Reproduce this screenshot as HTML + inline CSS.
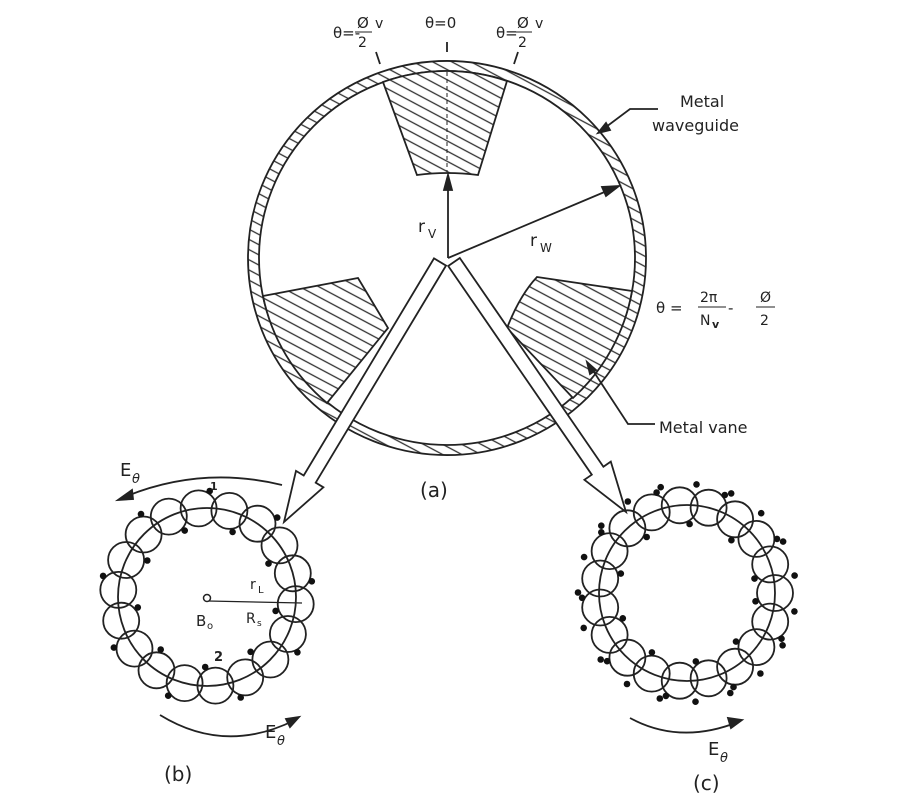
<!DOCTYPE html>
<html><head><meta charset="utf-8"><style>
html,body{margin:0;padding:0;background:#fff}
svg{display:block}
text{font-family:"DejaVu Sans","Liberation Sans",sans-serif;fill:#222}
</style></head><body>
<svg id="s" width="900" height="800" viewBox="0 0 900 800" xmlns="http://www.w3.org/2000/svg">
<defs>
<pattern id="h" patternUnits="userSpaceOnUse" width="9" height="9" patternTransform="rotate(28)">
<rect width="9" height="9" fill="#fff"/><line x1="0" y1="4.5" x2="9" y2="4.5" stroke="#333" stroke-width="1.3"/>
</pattern>
</defs>
<g stroke="#222" stroke-width="1.8" fill="none">
<!-- waveguide wall -->
<path d="M248,258 a199,197 0 1,0 398,0 a199,197 0 1,0 -398,0 Z M259,258 a188,187 0 1,0 376,0 a188,187 0 1,0 -376,0 Z" fill="url(#h)" fill-rule="evenodd"/>
<!-- vanes -->
<path d="M383,82 A188,188 0 0,1 507,81 L478,175 Q447,171 417,175 Z" fill="url(#h)"/>
<path d="M263,296 L358,278 L388,328 L327,403 A188,188 0 0,1 263,296 Z" fill="url(#h)"/>
<path d="M537,277 L632,291 A188,188 0 0,1 573,398 L507,328 Q520,295 537,277 Z" fill="url(#h)"/>
<line x1="447" y1="72" x2="447" y2="172" stroke-dasharray="4,3" stroke-width="1"/>
<!-- radii -->
<line x1="448" y1="258" x2="448" y2="178"/>
<polygon points="448,175 444,190 452,190" fill="#222"/>
<line x1="448" y1="258" x2="614" y2="188"/>
<polygon points="619,186 602,187 606,196" fill="#222"/>
<!-- tick marks -->
<line x1="447" y1="42" x2="447" y2="52"/>
<line x1="376" y1="52" x2="380" y2="64"/>
<line x1="518" y1="52" x2="514" y2="64"/>
<!-- leaders -->
<polyline points="658,109 630,109 602,130"/>
<polygon points="598,133 606,123 610,130" fill="#222"/>
<polyline points="655,424 628,424 590,366"/>
<polygon points="587,362 596,370 590,374" fill="#222"/>
<!-- arrows -->
<polygon points="459.8,258 603.4,466.7 610.8,461.6 626,512 584.4,479.8 591.8,474.7 448.2,266" fill="#fff"/>
<polygon points="446,265.6 315.7,482.7 323.4,487.3 284,522 296,470.9 303.7,475.5 434,258.4" fill="#fff"/>
<!-- E arcs -->
<path d="M122,498 Q200,465 282,485"/>
<polygon points="118,500 132,490 133,499" fill="#222"/>
<path d="M160,715 Q225,755 295,720"/>
<polygon points="299,717 286,719 290,727" fill="#222"/>
<path d="M630,718 Q680,745 738,722"/>
<polygon points="742,720 728,718 731,728" fill="#222"/>
<line x1="208" y1="601" x2="302" y2="603" stroke-width="1.3"/>
</g>
<circle cx="207" cy="598" r="3.5" fill="#fff" stroke="#222" stroke-width="1.5"/>
<g id="rb" stroke="#222" stroke-width="1.8" fill="none"></g>
<g id="rc" stroke="#222" stroke-width="1.8" fill="none"></g>
<text x="333" y="38" font-size="15">θ=-</text><text x="357" y="28" font-size="15">Ø</text><text x="375" y="28" font-size="14">v</text>
<line x1="355" y1="32" x2="372" y2="32" stroke="#222" stroke-width="1"/><text x="358" y="47" font-size="14">2</text>
<text x="425" y="28" font-size="15">θ=0</text>
<text x="496" y="38" font-size="15">θ=</text><text x="517" y="28" font-size="15">Ø</text><text x="535" y="28" font-size="14">v</text>
<line x1="516" y1="32" x2="532" y2="32" stroke="#222" stroke-width="1"/><text x="518" y="47" font-size="14">2</text>
<text x="680" y="107" font-size="16">Metal</text>
<text x="652" y="131" font-size="16">waveguide</text>
<text x="418" y="232" font-size="17">r</text><text x="428" y="238" font-size="12">V</text>
<text x="530" y="246" font-size="17">r</text><text x="540" y="252" font-size="12">W</text>
<text x="656" y="313" font-size="15">θ =</text>
<text x="700" y="302" font-size="14">2π</text><line x1="698" y1="307" x2="726" y2="307" stroke="#222" stroke-width="1"/>
<text x="700" y="325" font-size="14">N</text><text x="712" y="328" font-size="11" font-weight="bold">v</text>
<text x="728" y="313" font-size="15">-</text>
<text x="760" y="302" font-size="14">Ø</text><line x1="756" y1="307" x2="775" y2="307" stroke="#222" stroke-width="1"/><text x="760" y="325" font-size="14">2</text>
<text x="659" y="433" font-size="16">Metal vane</text>
<text x="420" y="497" font-size="20" font-family="Liberation Sans">(a)</text>
<text x="120" y="476" font-size="18">E</text><text x="132" y="483" font-size="13" font-style="italic">θ</text>
<text x="265" y="738" font-size="18">E</text><text x="277" y="745" font-size="13" font-style="italic">θ</text>
<text x="708" y="755" font-size="18">E</text><text x="720" y="762" font-size="13" font-style="italic">θ</text>
<text x="164" y="781" font-size="20" font-family="Liberation Sans">(b)</text>
<text x="693" y="790" font-size="20" font-family="Liberation Sans">(c)</text>
<text x="210" y="490" font-size="11" font-weight="bold">1</text>
<text x="214" y="661" font-size="13" font-weight="bold">2</text>
<text x="250" y="589" font-size="14">r</text><text x="258" y="593" font-size="10">L</text>
<text x="196" y="626" font-size="15">B</text><text x="207" y="629" font-size="10">o</text>
<text x="246" y="623" font-size="14">R</text><text x="257" y="626" font-size="9">s</text>
</svg>
<script>
function ring(id,cx,cy,R,r,N,off,dash){
 var g=document.getElementById(id),s='';
 s+='<circle cx="'+cx+'" cy="'+cy+'" r="'+R+'"/>';
 for(var i=0;i<N;i++){var a=off+i*2*Math.PI/N;
  s+='<circle cx="'+(cx+R*Math.cos(a)).toFixed(1)+'" cy="'+(cy+R*Math.sin(a)).toFixed(1)+'" r="'+r+'"/>';
  var rr=(i%2?R+r:R-r)-1, b=a+0.12;
  s+='<circle cx="'+(cx+rr*Math.cos(b)).toFixed(1)+'" cy="'+(cy+rr*Math.sin(b)).toFixed(1)+'" r="3.3" fill="#111" stroke="none"/>';
  if(dash){var q=R+r+3;s+='<circle cx="'+(cx+q*Math.cos(a+0.17)).toFixed(1)+'" cy="'+(cy+q*Math.sin(a+0.17)).toFixed(1)+'" r="3.3" fill="#111" stroke="none"/>';}
 }
 g.innerHTML=s;
}
ring('rb',207,597,89,18,18,0.08,false);
ring('rc',687,593,88,18,19,0.0,true);
</script>
</body></html>
